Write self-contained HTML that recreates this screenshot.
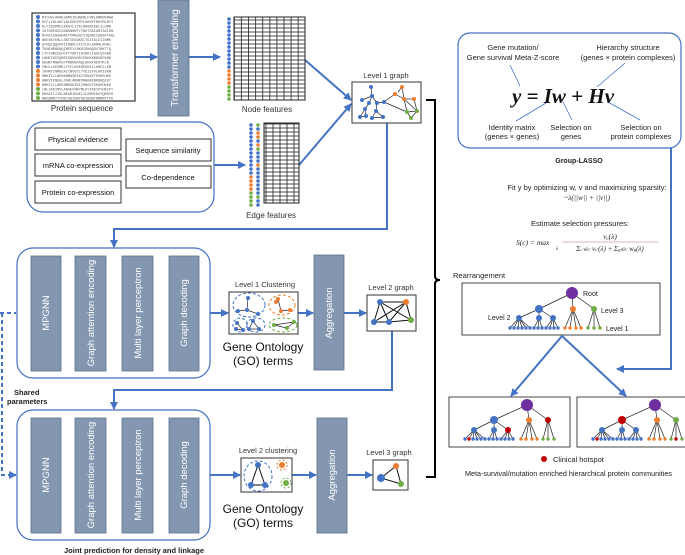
<!DOCTYPE html>
<html><head><meta charset="utf-8"><style>
html,body{margin:0;padding:0;background:#fff}
svg{display:block;font-family:"Liberation Sans",sans-serif}
</style></head><body>
<svg width="685" height="555" viewBox="0 0 685 555" xmlns="http://www.w3.org/2000/svg">
<defs>
<marker id="a" markerWidth="8" markerHeight="8" refX="7" refY="4" orient="auto" markerUnits="userSpaceOnUse"><path d="M0,0 L8,4 L0,8 z" fill="#4472c4"/></marker>
<pattern id="g1" width="7.1" height="4" patternUnits="userSpaceOnUse"><rect width="7.1" height="4" fill="#fff" stroke="#222" stroke-width="0.8"/></pattern>
<pattern id="g2" width="7" height="4" patternUnits="userSpaceOnUse"><rect width="7" height="4" fill="#fff" stroke="#222" stroke-width="0.8"/></pattern>
</defs>
<g stroke="#4472c4" stroke-width="2" fill="none">
<!-- top arrows -->
<line x1="130" y1="57" x2="157" y2="57" marker-end="url(#a)"/>
<line x1="189" y1="57" x2="220" y2="57" marker-end="url(#a)"/>
<line x1="305" y1="60" x2="351" y2="100" marker-end="url(#a)"/>
<line x1="214" y1="165" x2="245" y2="165" marker-end="url(#a)"/>
<line x1="299" y1="165" x2="351" y2="104" marker-end="url(#a)"/>
<polyline points="387,123 387,229 114,229 114,247" marker-end="url(#a)"/>
<line x1="210" y1="313" x2="228" y2="313" marker-end="url(#a)"/>
<line x1="298" y1="313" x2="313" y2="313" marker-end="url(#a)"/>
<line x1="344" y1="313" x2="366" y2="313" marker-end="url(#a)"/>
<polyline points="392,331 392,390 114,390 114,409" marker-end="url(#a)"/>
<line x1="210" y1="475" x2="240" y2="475" marker-end="url(#a)"/>
<line x1="292" y1="475" x2="316" y2="475" marker-end="url(#a)"/>
<line x1="347" y1="475" x2="372" y2="475" marker-end="url(#a)"/>
<polyline points="671,148 671,369 617,369" marker-end="url(#a)"/>
<line x1="562" y1="336" x2="511" y2="396" marker-end="url(#a)"/>
<line x1="562" y1="336" x2="626" y2="396" marker-end="url(#a)"/>
<polyline points="0,313 16,313" stroke-dasharray="4,3"/>
<polyline points="2,313 2,475 16,475" stroke-dasharray="4,3" marker-end="url(#a)"/>
</g>
<!-- brace -->
<path d="M426,100 L435,100 L435,276 Q435,280 440,280 Q435,280 435,284 L435,477 L426,477" fill="none" stroke="#000" stroke-width="2"/>
<!-- protein sequence -->
<rect x="32" y="13" width="103" height="88" fill="#fff" stroke="#333" stroke-width="1.2"/>
<g fill="#4472c4">
<circle cx="38" cy="17" r="2"/><circle cx="38" cy="21.5" r="2"/><circle cx="38" cy="26" r="2"/><circle cx="38" cy="30.5" r="2"/><circle cx="38" cy="35" r="2"/><circle cx="38" cy="39.5" r="2"/><circle cx="38" cy="44" r="2"/><circle cx="38" cy="48.5" r="2"/><circle cx="38" cy="53" r="2"/><circle cx="38" cy="57.5" r="2"/><circle cx="38" cy="62" r="2"/><circle cx="38" cy="66.5" r="2"/>
</g>
<g fill="#ed7d31"><circle cx="38" cy="71" r="2"/><circle cx="38" cy="75.5" r="2"/><circle cx="38" cy="80" r="2"/><circle cx="38" cy="84.5" r="2"/></g>
<g fill="#70ad47"><circle cx="38" cy="89" r="2"/><circle cx="38" cy="93.5" r="2"/><circle cx="38" cy="98" r="2"/></g>
<g font-family="Liberation Mono,monospace" font-size="3.6" fill="#555">
<text x="42" y="18.5">MICHVLAKNEGKMVIEHNDRLFNKLAMKNVNHH</text><text x="42" y="23">KCFLINLANTLWLDEKIMYLANVEFNKYMLHYI</text><text x="42" y="27.5">HLFIQVDMLEKKATLIIKLNKGRIKKLILGMH</text><text x="42" y="32">IHTGKEGGCGGNGNNNTYYNKTSGIGNYGGIGN</text><text x="42" y="36.5">NCKKISHGGHNIFVRKGGIIYQGNIIGNSFFGGL</text><text x="42" y="41">NKEGKYENLLSNTIEGGKELTGIIKLEIINMK</text><text x="42" y="45.5">QYNQLQQENVIIANHLFIEYLKLGKNNLRHKI</text><text x="42" y="50">TKNEHRHENQIMFEYLRKKIDNNQSVTKKTTQ</text><text x="42" y="54.5">LYFIHNCEEHCFYYKKTIGIKKLIGSLQTGNH</text><text x="42" y="59">LNNEIKDYQMSIENNVHDIFNHEKNKGKFKNK</text><text x="42" y="63.5">HENKYNNHKSYPKNNGFNQLHKNYHENTKLR</text><text x="42" y="68">FNHLLKEGMELYIFLKEKKEKNIILHNEILKM</text><text x="42" y="72.5">IHNNTCNMEEKCINVGTLYYEIIPVLKKISKN</text><text x="42" y="77">KMKIILLNENKNMGSKIKIIHNGVTEKKEHKE</text><text x="42" y="81.5">GNKVIENEHLFNKLANNKVNHHKENKNNQIHT</text><text x="42" y="86">KMKIILLNEKNMGSKIKIIHNGVTEKKEHKEK</text><text x="42" y="90.5">LMLIKKIMVLANVEFNKYMLHYIKKIKYHKCFY</text><text x="42" y="95">KKKATLIIKLNKGRIKKKLILGMHIKDYQMGIH</text><text x="42" y="99.5">NNKNNNTTYNKTSGIGNYGGIGNHTRMNNYTFK</text>
</g>
<text x="82" y="111" font-size="8" text-anchor="middle" fill="#333">Protein sequence</text>
<!-- transformer -->
<rect x="158" y="0" width="31" height="116" fill="#8497b0" stroke="#5a6f8f" stroke-width="0.8"/>
<text transform="translate(178,58) rotate(-90)" font-size="10" fill="#fff" text-anchor="middle">Transformer encoding</text>
<!-- node features -->
<rect x="234" y="17" width="71" height="83" fill="url(#g1)" stroke="#222" stroke-width="1"/>
<g id="nd">
<circle cx="229" cy="19" r="1.8" fill="#4472c4"/><circle cx="229" cy="23" r="1.8" fill="#4472c4"/><circle cx="229" cy="27" r="1.8" fill="#4472c4"/><circle cx="229" cy="31" r="1.8" fill="#4472c4"/><circle cx="229" cy="35" r="1.8" fill="#4472c4"/><circle cx="229" cy="39" r="1.8" fill="#4472c4"/><circle cx="229" cy="43" r="1.8" fill="#4472c4"/><circle cx="229" cy="47" r="1.8" fill="#4472c4"/><circle cx="229" cy="51" r="1.8" fill="#4472c4"/><circle cx="229" cy="55" r="1.8" fill="#4472c4"/><circle cx="229" cy="59" r="1.8" fill="#4472c4"/><circle cx="229" cy="63" r="1.8" fill="#4472c4"/><circle cx="229" cy="67" r="1.8" fill="#4472c4"/><circle cx="229" cy="71" r="1.8" fill="#ed7d31"/><circle cx="229" cy="75" r="1.8" fill="#ed7d31"/><circle cx="229" cy="79" r="1.8" fill="#ed7d31"/><circle cx="229" cy="83" r="1.8" fill="#ed7d31"/><circle cx="229" cy="87" r="1.8" fill="#70ad47"/><circle cx="229" cy="91" r="1.8" fill="#70ad47"/><circle cx="229" cy="95" r="1.8" fill="#70ad47"/><circle cx="229" cy="99" r="1.8" fill="#70ad47"/>
</g>
<text x="267" y="112" font-size="8" text-anchor="middle" fill="#333">Node features</text>
<!-- edge features -->
<rect x="264" y="123" width="35" height="80" fill="url(#g2)" stroke="#222" stroke-width="1"/>
<use href="#nd" transform="translate(22,106)"/>
<g transform="translate(29,106)">
<circle cx="229" cy="19" r="1.8" fill="#70ad47"/><circle cx="229" cy="23" r="1.8" fill="#4472c4"/><circle cx="229" cy="27" r="1.8" fill="#ed7d31"/><circle cx="229" cy="31" r="1.8" fill="#ed7d31"/><circle cx="229" cy="35" r="1.8" fill="#4472c4"/><circle cx="229" cy="39" r="1.8" fill="#ed7d31"/><circle cx="229" cy="43" r="1.8" fill="#70ad47"/><circle cx="229" cy="47" r="1.8" fill="#4472c4"/><circle cx="229" cy="51" r="1.8" fill="#4472c4"/><circle cx="229" cy="55" r="1.8" fill="#4472c4"/><circle cx="229" cy="59" r="1.8" fill="#ed7d31"/><circle cx="229" cy="63" r="1.8" fill="#4472c4"/><circle cx="229" cy="67" r="1.8" fill="#4472c4"/><circle cx="229" cy="71" r="1.8" fill="#4472c4"/><circle cx="229" cy="75" r="1.8" fill="#4472c4"/><circle cx="229" cy="79" r="1.8" fill="#4472c4"/><circle cx="229" cy="83" r="1.8" fill="#4472c4"/><circle cx="229" cy="87" r="1.8" fill="#4472c4"/><circle cx="229" cy="91" r="1.8" fill="#70ad47"/><circle cx="229" cy="95" r="1.8" fill="#4472c4"/><circle cx="229" cy="99" r="1.8" fill="#4472c4"/>
</g>
<text x="271" y="218" font-size="8" text-anchor="middle" fill="#333">Edge features</text>
<!-- evidence box -->
<rect x="27" y="122" width="187" height="90" rx="16" fill="#fff" stroke="#4472c4" stroke-width="1.2"/>
<g fill="#fff" stroke="#333" stroke-width="1">
<rect x="35" y="128" width="86" height="22"/><rect x="35" y="154" width="86" height="22"/><rect x="35" y="181" width="86" height="22"/><rect x="126" y="139" width="85" height="22"/><rect x="126" y="166" width="85" height="22"/></g>
<g font-size="7.5" text-anchor="middle" fill="#111">
<text x="78" y="142">Physical evidence</text><text x="78" y="168">mRNA co-expression</text><text x="78" y="195">Protein co-expression</text><text x="168" y="153">Sequence similarity</text><text x="168" y="180">Co-dependence</text></g>
<!-- level 1 graph -->
<text x="386" y="78" font-size="7.5" text-anchor="middle" fill="#333">Level 1 graph</text>
<rect x="352" y="82" width="69" height="41" fill="#fff" stroke="#333" stroke-width="1"/>
<g stroke="#222" stroke-width="0.7">
<line x1="371" y1="87" x2="372" y2="96"/><line x1="372" y1="96" x2="362" y2="100"/><line x1="372" y1="96" x2="377" y2="103"/><line x1="377" y1="103" x2="384" y2="102"/><line x1="372" y1="96" x2="369" y2="103"/><line x1="369" y1="103" x2="365" y2="109"/><line x1="365" y1="109" x2="360" y2="117"/><line x1="360" y1="117" x2="366" y2="116"/><line x1="366" y1="116" x2="365" y2="109"/><line x1="377" y1="103" x2="376" y2="111"/><line x1="376" y1="111" x2="372" y2="118"/><line x1="372" y1="118" x2="383" y2="117"/><line x1="376" y1="111" x2="383" y2="117"/><line x1="384" y1="102" x2="395" y2="94"/><line x1="395" y1="94" x2="404" y2="99"/><line x1="384" y1="102" x2="407" y2="112"/><line x1="402" y1="87" x2="404" y2="99"/><line x1="398" y1="92" x2="402" y2="87"/><line x1="404" y1="99" x2="414" y2="99"/><line x1="414" y1="99" x2="417" y2="111"/><line x1="404" y1="99" x2="417" y2="111"/><line x1="407" y1="112" x2="417" y2="111"/><line x1="407" y1="112" x2="411" y2="118"/><line x1="411" y1="118" x2="417" y2="111"/><line x1="404" y1="99" x2="407" y2="112"/></g>
<g fill="#4472c4"><circle cx="371" cy="87" r="2"/><circle cx="372" cy="96" r="2"/><circle cx="362" cy="100" r="2"/><circle cx="377" cy="103" r="2"/><circle cx="369" cy="103" r="2"/><circle cx="384" cy="102" r="2"/><circle cx="365" cy="109" r="2"/><circle cx="360" cy="117" r="2"/><circle cx="366" cy="116" r="2"/><circle cx="376" cy="111" r="2"/><circle cx="372" cy="118" r="2"/><circle cx="383" cy="117" r="2"/></g>
<g fill="#ed7d31"><circle cx="395" cy="94" r="2"/><circle cx="402" cy="87" r="2"/><circle cx="404" cy="99" r="2"/><circle cx="414" cy="99" r="2"/></g>
<g fill="#70ad47"><circle cx="407" cy="112" r="2"/><circle cx="417" cy="111" r="2"/><circle cx="411" cy="118" r="2"/></g>
<!-- module boxes -->
<g id="mod">
<rect x="17" y="248" width="193" height="130" rx="16" fill="#fff" stroke="#4472c4" stroke-width="1.2"/>
<g fill="#8497b0" stroke="#5a6f8f" stroke-width="0.8">
<rect x="31" y="256" width="30" height="115"/><rect x="75" y="256" width="31" height="115"/><rect x="122" y="256" width="31" height="115"/><rect x="169" y="256" width="30" height="115"/></g>
<g font-size="9.5" fill="#fff" text-anchor="middle">
<text transform="translate(49,313) rotate(-90)">MPGNN</text>
<text transform="translate(94,313) rotate(-90)">Graph attention encoding</text>
<text transform="translate(141,313) rotate(-90)">Multi layer perceptron</text>
<text transform="translate(187,313) rotate(-90)">Graph decoding</text></g>
</g>
<use href="#mod" transform="translate(0,162)"/>
<!-- aggregation -->
<rect x="314" y="255" width="30" height="115" fill="#8497b0" stroke="#5a6f8f" stroke-width="0.8"/>
<text transform="translate(332,313) rotate(-90)" font-size="9.5" fill="#fff" text-anchor="middle">Aggregation</text>
<rect x="317" y="418" width="30" height="115" fill="#8497b0" stroke="#5a6f8f" stroke-width="0.8"/>
<text transform="translate(335,475) rotate(-90)" font-size="9.5" fill="#fff" text-anchor="middle">Aggregation</text>
<!-- level 1 clustering -->
<text x="265" y="287" font-size="7.5" text-anchor="middle" fill="#333">Level 1 Clustering</text>
<rect x="229" y="292" width="69" height="42" fill="#fff" stroke="#333" stroke-width="1"/>
<g fill="none" stroke-dasharray="3,2" stroke-width="1">
<ellipse cx="249" cy="305" rx="16" ry="12" stroke="#4472c4"/><ellipse cx="240" cy="325" rx="7" ry="7" stroke="#4472c4"/><ellipse cx="256" cy="325" rx="9" ry="7" stroke="#4472c4"/><ellipse cx="282" cy="305" rx="13" ry="10" stroke="#ed7d31"/><ellipse cx="283" cy="325" rx="14" ry="7" stroke="#70ad47"/></g>
<g stroke="#222" stroke-width="0.7"><line x1="248" y1="298" x2="247" y2="310"/><line x1="247" y1="310" x2="238" y2="311"/><line x1="247" y1="310" x2="258" y2="314"/><line x1="237" y1="323" x2="243" y2="330"/><line x1="243" y1="330" x2="236" y2="329"/><line x1="253" y1="321" x2="259" y2="329"/><line x1="259" y1="329" x2="249" y2="329"/><line x1="249" y1="329" x2="253" y2="321"/><line x1="278" y1="299" x2="281" y2="311"/><line x1="281" y1="311" x2="290" y2="310"/><line x1="276" y1="302" x2="278" y2="299"/><line x1="274" y1="325" x2="287" y2="328"/><line x1="287" y1="328" x2="294" y2="322"/><line x1="274" y1="325" x2="294" y2="322"/></g>
<g fill="#4472c4"><circle cx="248" cy="298" r="2"/><circle cx="247" cy="310" r="2"/><circle cx="238" cy="311" r="2"/><circle cx="258" cy="314" r="2"/><circle cx="237" cy="323" r="2"/><circle cx="243" cy="330" r="2"/><circle cx="236" cy="329" r="2"/><circle cx="253" cy="321" r="2"/><circle cx="259" cy="329" r="2"/><circle cx="249" cy="329" r="2"/></g>
<g fill="#ed7d31"><circle cx="278" cy="299" r="2"/><circle cx="281" cy="311" r="2"/><circle cx="290" cy="310" r="2"/><circle cx="276" cy="302" r="2"/></g>
<g fill="#70ad47"><circle cx="274" cy="325" r="2"/><circle cx="287" cy="328" r="2"/><circle cx="294" cy="322" r="2"/></g>
<g font-size="12" text-anchor="middle" fill="#111"><text x="263" y="351">Gene Ontology</text><text x="263" y="365">(GO)  terms</text><text x="263" y="513">Gene Ontology</text><text x="263" y="527">(GO)  terms</text></g>
<!-- level 2 graph -->
<text x="391" y="290" font-size="7.5" text-anchor="middle" fill="#333">Level 2 graph</text>
<rect x="367" y="295" width="49" height="36" fill="#fff" stroke="#333" stroke-width="1"/>
<g stroke="#111" stroke-width="1"><line x1="380" y1="302" x2="374" y2="322"/><line x1="380" y1="302" x2="389" y2="322"/><line x1="380" y1="302" x2="406" y2="302"/><line x1="380" y1="302" x2="411" y2="320"/><line x1="374" y1="322" x2="389" y2="322"/><line x1="374" y1="322" x2="406" y2="302"/><line x1="389" y1="322" x2="406" y2="302"/><line x1="389" y1="322" x2="411" y2="320"/><line x1="406" y1="302" x2="411" y2="320"/></g>
<circle cx="380" cy="302" r="3" fill="#4472c4"/><circle cx="374" cy="322" r="3" fill="#4472c4"/><circle cx="389" cy="322" r="3" fill="#4472c4"/><circle cx="406" cy="302" r="3" fill="#ed7d31"/><circle cx="411" cy="320" r="3" fill="#70ad47"/>
<!-- level 2 clustering -->
<text x="268" y="453" font-size="7.5" text-anchor="middle" fill="#333">Level 2 clustering</text>
<rect x="241" y="458" width="51" height="34" fill="#fff" stroke="#333" stroke-width="1"/>
<ellipse cx="258" cy="476" rx="14" ry="15" fill="none" stroke="#4472c4" stroke-dasharray="3,2"/>
<circle cx="282" cy="465" r="5" fill="none" stroke="#ed7d31" stroke-dasharray="2,2"/>
<circle cx="286" cy="483" r="5" fill="none" stroke="#70ad47" stroke-dasharray="2,2"/>
<g stroke="#111" stroke-width="1"><line x1="258" y1="465" x2="251" y2="485"/><line x1="258" y1="465" x2="265" y2="485"/><line x1="251" y1="485" x2="265" y2="485"/></g>
<circle cx="258" cy="465" r="3" fill="#4472c4"/><circle cx="251" cy="485" r="3" fill="#4472c4"/><circle cx="265" cy="485" r="3" fill="#4472c4"/><circle cx="282" cy="465" r="3" fill="#ed7d31"/><circle cx="286" cy="483" r="3" fill="#70ad47"/>
<!-- level 3 graph -->
<text x="389" y="455" font-size="7.5" text-anchor="middle" fill="#333">Level 3 graph</text>
<rect x="373" y="460" width="35" height="30" fill="#fff" stroke="#333" stroke-width="1"/>
<g stroke="#111"><line x1="381" y1="478" x2="396" y2="466"/><line x1="381" y1="478" x2="401" y2="484"/><line x1="396" y1="466" x2="401" y2="484"/></g>
<circle cx="381" cy="478" r="4" fill="#4472c4"/><circle cx="396" cy="466" r="3" fill="#ed7d31"/><circle cx="401" cy="484" r="3" fill="#70ad47"/>
<g font-size="7.5" font-weight="bold" fill="#222"><text x="14" y="395">Shared</text><text x="7" y="404">parameters</text><text x="64" y="553">Joint prediction for density and linkage</text></g>
<!-- group lasso -->
<rect x="458" y="33" width="223" height="115" rx="12" fill="#fff" stroke="#4472c4" stroke-width="1.2"/>
<g font-size="7.5" text-anchor="middle" fill="#222">
<text x="513" y="50">Gene mutation/</text><text x="513" y="60">Gene survival Meta-Z-score</text>
<text x="628" y="50">Hierarchy structure</text><text x="628" y="60">(genes × protein complexes)</text>
<text x="512" y="130">Identity matrix</text><text x="512" y="139">(genes × genes)</text>
<text x="571" y="130">Selection on</text><text x="571" y="139">genes</text>
<text x="641" y="130">Selection on</text><text x="641" y="139">protein complexes</text>
</g>
<g stroke="#4472c4" stroke-width="0.8"><line x1="510" y1="65" x2="520" y2="86"/><line x1="625" y1="63" x2="597" y2="87"/><line x1="546" y1="103" x2="516" y2="121"/><line x1="563" y1="102" x2="572" y2="120"/><line x1="608" y1="102" x2="640" y2="120"/></g>
<text x="563" y="103" font-family="Liberation Serif,serif" font-size="21" font-weight="bold" font-style="italic" text-anchor="middle" fill="#111">y = Iw + Hv</text>
<text x="579" y="163" font-size="7" font-weight="bold" text-anchor="middle" fill="#222">Group-LASSO</text>
<g font-size="7.5" text-anchor="middle" fill="#222">
<text x="587" y="190">Fit y by optimizing w, v and maximizing sparsity:</text>
<text x="587" y="200" font-family="Liberation Serif,serif" font-style="italic">~λ(||w|| + ||v||)</text>
<text x="580" y="226">Estimate selection pressures:</text></g>
<g font-family="Liberation Serif,serif" font-style="italic" font-size="7.5" fill="#222">
<text x="516" y="245">S(c) = max</text><text x="556" y="250" font-size="5">λ</text>
<text x="610" y="239" text-anchor="middle">v<tspan font-size="5" dy="1">c</tspan><tspan dy="-1">(λ)</tspan></text>
<line x1="562" y1="242" x2="658" y2="242" stroke="#c66" stroke-width="0.6"/>
<text x="610" y="251" text-anchor="middle" font-size="7">Σ<tspan font-size="4.5">c′∈C</tspan> v<tspan font-size="4.5">c′</tspan>(λ) + Σ<tspan font-size="4.5">g∈C</tspan> w<tspan font-size="4.5">g</tspan>(λ)</text></g>
<text x="453" y="278" font-size="7.5" fill="#222">Rearrangement</text>
<!-- top tree -->
<rect x="462" y="283" width="198" height="52" fill="#fff" stroke="#444" stroke-width="1"/>
<g stroke="#222" stroke-width="0.7">
<line x1="572" y1="293" x2="539" y2="309"/><line x1="572" y1="293" x2="573" y2="309"/><line x1="572" y1="293" x2="594" y2="309"/>
<line x1="539" y1="309" x2="519" y2="318"/><line x1="539" y1="309" x2="539" y2="318"/><line x1="539" y1="309" x2="553" y2="318"/>
<path d="M519,318 L510,328 M519,318 L514,328 M519,318 L518,328 M519,318 L522,328 M519,318 L526,328 M519,318 L530,328 M539,318 L534,328 M539,318 L538,328 M539,318 L542,328 M553,318 L546,328 M553,318 L550,328 M553,318 L554,328 M553,318 L558,328 M573,309 L565,328 M573,309 L570,328 M573,309 L576,328 M573,309 L581,328 M594,309 L588,328 M594,309 L594,328 M594,309 L600,328"/></g>
<circle cx="572" cy="293" r="6" fill="#7030a0"/><circle cx="539" cy="309" r="4" fill="#4472c4"/><circle cx="573" cy="309" r="3" fill="#ed7d31"/><circle cx="594" cy="309" r="3" fill="#70ad47"/>
<circle cx="519" cy="318" r="3" fill="#4472c4"/><circle cx="539" cy="318" r="3" fill="#4472c4"/><circle cx="553" cy="318" r="3" fill="#4472c4"/>
<g fill="#4472c4"><circle cx="510" cy="328" r="1.7"/><circle cx="514" cy="328" r="1.7"/><circle cx="518" cy="328" r="1.7"/><circle cx="522" cy="328" r="1.7"/><circle cx="526" cy="328" r="1.7"/><circle cx="530" cy="328" r="1.7"/><circle cx="534" cy="328" r="1.7"/><circle cx="538" cy="328" r="1.7"/><circle cx="542" cy="328" r="1.7"/><circle cx="546" cy="328" r="1.7"/><circle cx="550" cy="328" r="1.7"/><circle cx="554" cy="328" r="1.7"/><circle cx="558" cy="328" r="1.7"/></g>
<g fill="#ed7d31"><circle cx="565" cy="328" r="1.7"/><circle cx="570" cy="328" r="1.7"/><circle cx="576" cy="328" r="1.7"/><circle cx="581" cy="328" r="1.7"/></g>
<g fill="#70ad47"><circle cx="588" cy="328" r="1.7"/><circle cx="594" cy="328" r="1.7"/><circle cx="600" cy="328" r="1.7"/></g>
<g font-size="7" fill="#222"><text x="583" y="296">Root</text><text x="601" y="313">Level 3</text><text x="488" y="320">Level 2</text><text x="606" y="331">Level 1</text></g>
<!-- bottom trees -->
<g id="bt">
<rect x="449" y="397" width="121" height="50" fill="#fff" stroke="#444" stroke-width="1"/>
<g stroke="#222" stroke-width="0.7">
<line x1="527" y1="405" x2="494" y2="420"/><line x1="527" y1="405" x2="529" y2="420"/><line x1="527" y1="405" x2="548" y2="420"/>
<line x1="494" y1="420" x2="474" y2="430"/><line x1="494" y1="420" x2="494" y2="430"/><line x1="494" y1="420" x2="508" y2="430"/>
<path d="M474,430 L465,439 M474,430 L469,439 M474,430 L473,439 M474,430 L477,439 M474,430 L481,439 M474,430 L485,439 M494,430 L489,439 M494,430 L493,439 M494,430 L497,439 M508,430 L501,439 M508,430 L505,439 M508,430 L509,439 M508,430 L513,439 M529,420 L521,439 M529,420 L526,439 M529,420 L532,439 M529,420 L537,439 M548,420 L543,439 M548,420 L548,439 M548,420 L554,439"/></g>
<circle cx="527" cy="405" r="6" fill="#7030a0"/><circle cx="529" cy="420" r="3" fill="#ed7d31"/>
<circle cx="474" cy="430" r="3" fill="#4472c4"/><circle cx="494" cy="430" r="3" fill="#4472c4"/>
<g fill="#4472c4"><circle cx="465" cy="439" r="1.7"/><circle cx="473" cy="439" r="1.7"/><circle cx="477" cy="439" r="1.7"/><circle cx="481" cy="439" r="1.7"/><circle cx="485" cy="439" r="1.7"/><circle cx="489" cy="439" r="1.7"/><circle cx="493" cy="439" r="1.7"/><circle cx="497" cy="439" r="1.7"/><circle cx="501" cy="439" r="1.7"/><circle cx="505" cy="439" r="1.7"/><circle cx="509" cy="439" r="1.7"/><circle cx="513" cy="439" r="1.7"/></g>
<circle cx="469" cy="439" r="1.7" fill="#c00000"/>
<g fill="#ed7d31"><circle cx="521" cy="439" r="1.7"/><circle cx="526" cy="439" r="1.7"/><circle cx="532" cy="439" r="1.7"/><circle cx="537" cy="439" r="1.7"/></g>
<g fill="#70ad47"><circle cx="543" cy="439" r="1.7"/><circle cx="554" cy="439" r="1.7"/></g>
</g>
<circle cx="494" cy="420" r="4" fill="#4472c4"/><circle cx="508" cy="430" r="3" fill="#c00000"/><circle cx="548" cy="420" r="3" fill="#c00000"/><circle cx="548" cy="439" r="1.7" fill="#70ad47"/>
<use href="#bt" transform="translate(128,0)"/>
<circle cx="622" cy="420" r="4" fill="#c00000"/><circle cx="636" cy="430" r="3" fill="#4472c4"/><circle cx="676" cy="420" r="3" fill="#70ad47"/><circle cx="676" cy="439" r="1.7" fill="#c00000"/>
<circle cx="544" cy="459" r="3" fill="#c00000"/>
<text x="553" y="462" font-size="7.5" fill="#222">Clinical hotspot</text>
<text x="465" y="476" font-size="7.2" fill="#222">Meta-survival/mutation enriched hierarchical protein communities</text>
</svg>
</body></html>
